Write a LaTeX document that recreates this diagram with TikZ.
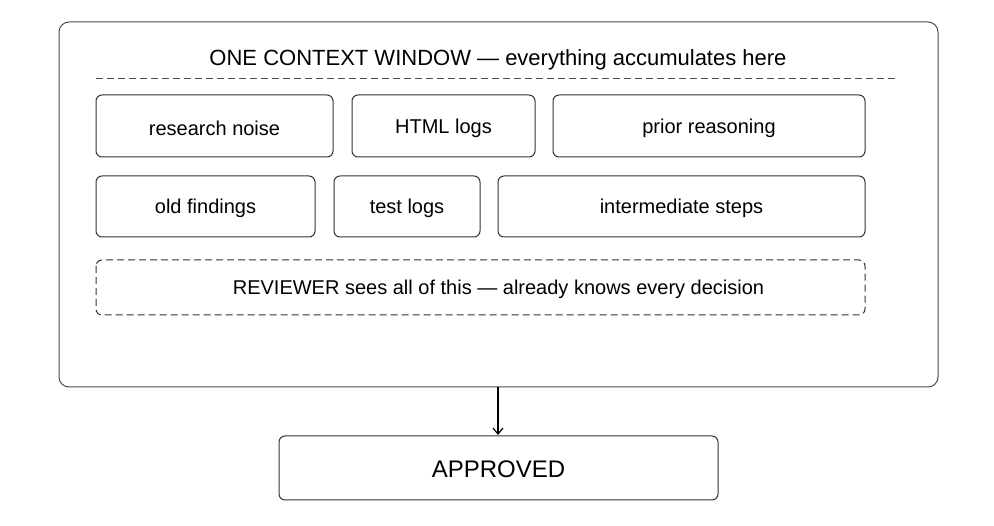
\documentclass[tikz,border=0pt]{standalone}
\usepackage{fontspec}
\setmainfont{Liberation Sans}
\usetikzlibrary{arrows.meta}
\begin{document}
\begin{tikzpicture}[x=1pt,y=-1pt,
  outerbox/.style={draw=black!70,line width=1pt,rounded corners=10pt},
  itembox/.style={draw=black!80,line width=1pt,rounded corners=6pt},
  dashbox/.style={itembox,dash pattern=on 7pt off 4pt},
  lbl/.style={font=\fontsize{20}{24}\selectfont,text=black,yshift=-2pt}]
\useasboundingbox (0,0) rectangle (994,526);
\fill[white] (0,0) rectangle (994,526);
% outer window
\draw[outerbox] (59,22) rectangle (938,387);
\coordinate (winbot) at (498,387);
\node[font=\fontsize{22}{26}\selectfont,text=black] (title) at (498,60) {ONE CONTEXT WINDOW — everything accumulates here};
\coordinate (dl) at (96,79);
\coordinate (dr) at (898,79);
\draw[black!70,line width=1pt,dash pattern=on 7pt off 4pt] (dl) -- (dr);
% row 1
\draw[itembox] (96,95) rectangle node[lbl] (rn) {research noise} (333,157);
\draw[itembox] (352,95) rectangle node[lbl] (hl) {HTML logs} (535,157);
\draw[itembox] (553,95) rectangle node[lbl] (pr) {prior reasoning} (865,157);
% row 2
\draw[itembox] (96,176) rectangle node[lbl] (of) {old findings} (315,237);
\draw[itembox] (334,176) rectangle node[lbl] (tl) {test logs} (480,237);
\draw[itembox] (498,176) rectangle node[lbl] (is) {intermediate steps} (865,237);
% reviewer
\draw[dashbox] (96,260) rectangle (865,315);
\node[lbl] (rv) at (498.5,287.5) {REVIEWER sees all of this — already knows every decision};
% approved
\draw[itembox] (279,436) rectangle node[font=\fontsize{24}{28}\selectfont,text=black,yshift=-1pt] (ap) {APPROVED} (718,500);
\coordinate (aptop) at (498,435);
\draw[line width=1.2pt,-{Straight Barb[length=6pt,width=10pt]}] (winbot) -- (aptop);
\end{tikzpicture}
\end{document}
